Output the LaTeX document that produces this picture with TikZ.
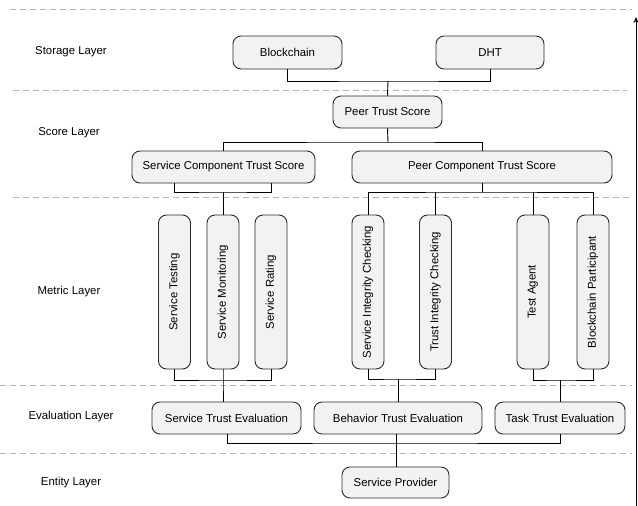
\documentclass[tikz,border=0pt]{standalone}
\usepackage{fontspec}
\setmainfont{Liberation Sans}
\usepackage{graphicx}
\usetikzlibrary{arrows.meta}
\definecolor{boxfill}{HTML}{F2F2F2}
\definecolor{boxline}{HTML}{2A2A2A}
\definecolor{dashgray}{HTML}{B4B4B4}
\begin{document}
\begin{tikzpicture}[x=1pt,y=-1pt,
  box/.style={draw=boxline,fill=boxfill,rounded corners=8pt,line width=0.9pt,inner sep=0pt,font=\fontsize{11.4}{13}\selectfont,align=center},
  vbox/.style={box,minimum width=32pt,minimum height=154pt},
  layerlbl/.style={font=\fontsize{11.4}{13}\selectfont,inner sep=0pt},
  sep/.style={draw=dashgray,line width=0.8pt,dash pattern=on 6pt off 4pt},
  conn/.style={draw=black,line width=0.9pt}]
\useasboundingbox (0,0) rectangle (638,506);

% layer separators
\draw[sep] (10,9) -- (632,9);
\draw[sep] (13,90) -- (627,90);
\draw[sep] (13,197) -- (632,197);
\draw[sep] (0,385) -- (632,385);
\draw[sep] (0,453) -- (632,453);

% layer labels
\node[layerlbl] (lstorage) at (71,52) {Storage Layer};
\node[layerlbl] (lscore) at (69,133) {Score Layer};
\node[layerlbl] (lmetric) at (69,292) {Metric Layer};
\node[layerlbl] (leval) at (71,417) {Evaluation Layer};
\node[layerlbl] (lentity) at (71,483) {Entity Layer};

% nodes
\node[box,minimum width=109pt,minimum height=33pt] (bc) at (287.5,52.5) {Blockchain};
\node[box,minimum width=108pt,minimum height=33pt] (dht) at (490,52.5) {DHT};
\node[box,minimum width=109pt,minimum height=32pt] (pts) at (387.5,112) {Peer Trust Score};
\node[box,minimum width=183pt,minimum height=32pt] (scts) at (223.5,167) {Service Component Trust Score};
\node[box,minimum width=260pt,minimum height=32pt] (pcts) at (482,167) {Peer Component Trust Score};

\node[vbox] (st) at (174.5,292) {\rotatebox{90}{Service Testing}};
\node[vbox] (sm) at (223,292) {\rotatebox{90}{Service Monitoring}};
\node[vbox] (sr) at (271,292) {\rotatebox{90}{Service Rating}};
\node[vbox] (sic) at (368,292) {\rotatebox{90}{Service Integrity Checking}};
\node[vbox] (tic) at (435.5,292) {\rotatebox{90}{Trust Integrity Checking}};
\node[vbox] (ta) at (533,292) {\rotatebox{90}{Test Agent}};
\node[vbox] (bp) at (593,292) {\rotatebox{90}{Blockchain Participant}};

\node[box,minimum width=149pt,minimum height=32pt] (ste) at (226.5,418) {Service Trust Evaluation};
\node[box,minimum width=168pt,minimum height=32pt] (bte) at (398,418) {Behavior Trust Evaluation};
\node[box,minimum width=130pt,minimum height=32pt] (tte) at (560,418) {Task Trust Evaluation};
\node[box,minimum width=107pt,minimum height=31pt] (sp) at (395.5,482.5) {Service Provider};

% junctions
\coordinate (j1) at (388,81);
\coordinate (j2) at (388,142);
\coordinate (j3) at (223,192);
\coordinate (j4) at (482,192);
\coordinate (j5) at (223,380);
\coordinate (j6) at (398,379);
\coordinate (j7) at (560,380);
\coordinate (j8) at (396,443);
\coordinate (j9) at (227,443);

% connectors
\draw[conn] (bc.south) |- (j1) -| (dht.south);
\draw[conn] (j1) -- (pts.north);
\draw[conn] (pts.south) -- (j2);
\draw[conn] (scts.north -| j3) |- (j2) -| (pcts.north);
\draw[conn] (scts.south -| st.north) |- (j3) -| (scts.south -| sr.north);
\draw[conn] (j3) -- (sm.north);
\draw[conn] (pcts.south) -- (j4);
\draw[conn] (sic.north) |- (j4) -| (bp.north);
\draw[conn] (tic.north) -- (tic.north |- j4);
\draw[conn] (ta.north) -- (ta.north |- j4);

\draw[conn] (st.south) |- (j5) -| (sr.south);
\draw[conn] (sm.south) -- (j5) -- (j5 |- ste.north);
\draw[conn] (sic.south) |- (j6) -| (tic.south);
\draw[conn] (j6) -- (bte.north);
\draw[conn] (ta.south) |- (j7) -| (bp.south);
\draw[conn] (j7) -- (tte.north);

\draw[conn] (j9 |- ste.south) -- (j9) -- (j8) -| (tte.south);
\draw[conn] (j8 |- bte.south) -- (j8 |- sp.north);

% right axis arrow
\coordinate (abot) at (636,506);
\coordinate (atop) at (636,17);
\draw[draw=black,line width=0.9pt,-{Stealth[length=6pt,width=5pt]}] (abot) -- (atop);
\end{tikzpicture}
\end{document}
